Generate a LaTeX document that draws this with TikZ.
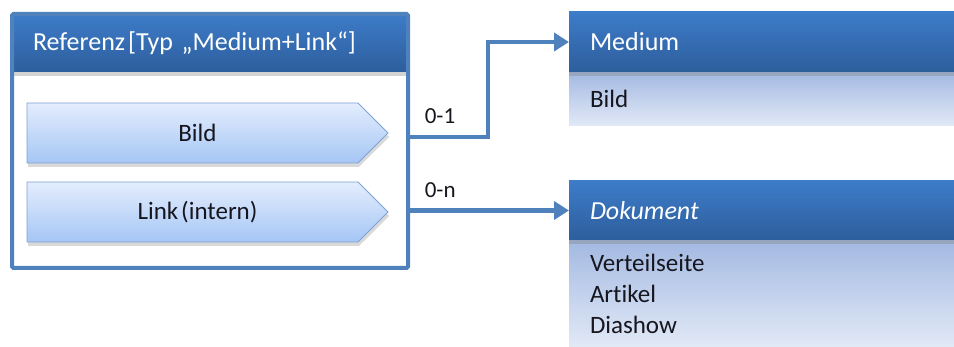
\documentclass[tikz,border=0pt]{standalone}
\usepackage{fontspec}
\setmainfont{Carlito}[Ligatures=NoCommon]
\usetikzlibrary{arrows.meta, positioning, shapes.symbols, shadows}

\definecolor{lineblue}{HTML}{4F81BD}
\definecolor{hdtop}{HTML}{3D7CC9}
\definecolor{hdbot}{HTML}{2D5E9C}
\definecolor{bdtop}{HTML}{A3B9E2}
\definecolor{bdbot}{HTML}{E2E9F6}
\definecolor{pentop}{HTML}{E3EDFD}
\definecolor{penbot}{HTML}{A6C6F5}
\definecolor{pendraw}{HTML}{7DA2D5}
\definecolor{txt}{HTML}{16161E}

\begin{document}
\begin{tikzpicture}[
  x=1pt, y=-1pt,
  frame/.style={draw=lineblue, line width=4pt, rounded corners=1.5pt, inner sep=0pt, outer sep=0pt, minimum width=396, minimum height=254},
  head/.style={top color=hdtop, bottom color=hdbot, text=white, inner xsep=21pt, inner ysep=0pt, outer sep=0pt, align=left, font=\fontsize{26}{31}\selectfont, drop shadow={shadow xshift=0pt, shadow yshift=-4pt, opacity=0.35}},
  body/.style={top color=bdtop, bottom color=bdbot, text=txt, inner xsep=21pt, inner ysep=0pt, outer sep=0pt, align=left, text width=343, font=\fontsize{25}{31}\selectfont},
  tag/.style={shape=signal, signal to=east, signal pointer angle=90, draw=pendraw, line width=0.8pt, top color=pentop, bottom color=penbot, minimum width=361, minimum height=60, inner sep=0pt, outer sep=0pt, text=txt, font=\fontsize{25}{30}\selectfont, drop shadow={shadow xshift=1pt, shadow yshift=-4pt, opacity=0.3}},
  conn/.style={draw=lineblue, line width=4.5pt, -{Triangle[length=15pt, width=18pt]}},
  card/.style={text=txt, inner sep=2pt, font=\fontsize{23}{28}\selectfont}
]
\useasboundingbox (0,0) rectangle (954,347);

% left: Referenz
\node[head, anchor=north west, text width=354, minimum height=58] (refhead) at (12,14) {Referenz\hspace{3pt}[Typ „Medium+Link“]};
\node[frame, anchor=north west] (ref) at (12,14) {};
\node[tag, anchor=west] (bildtag) at (27,133) {\hspace{10pt}Bild};
\node[tag, anchor=west] (linktag) at (27,212) {\hspace{10pt}Link\hspace{3pt}(intern)};

% right: Medium und Dokument
\node[body, anchor=north west, minimum height=54] (mediumbody) at (569,72) {Bild};
\node[head, anchor=north west, text width=343, minimum height=60] (medium) at (569,12) {Medium};
\node[body, anchor=north west, minimum height=107] (dokumentbody) at (569,240) {Verteilseite\\Artikel\\Diashow};
\node[head, anchor=north west, text width=343, minimum height=59] (dokument) at (569,181) {\textit{Dokument}};

\draw[conn] ([yshift=-4pt]bildtag.east -| ref.east) -- node[card, above=9pt, pos=0.4] {0-1} ++(80,0) |- (medium.west);
\draw[conn] (ref.east |- dokument.west) -- node[card, above=9pt, pos=0.2] {0-n} (dokument.west);
\end{tikzpicture}
\end{document}
